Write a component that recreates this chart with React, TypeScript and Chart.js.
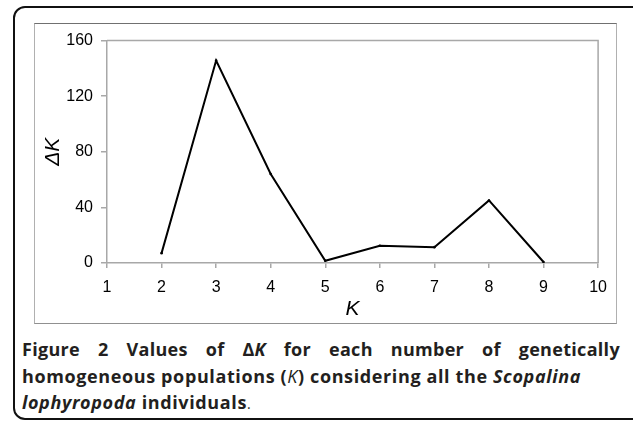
import React, { useEffect, useRef } from "react";
import { Chart, registerables } from "chart.js";

Chart.register(...registerables);

const kValues = [2, 3, 4, 5, 6, 7, 8, 9];
const deltaK = [7.1, 145.7, 64, 1.6, 12.4, 11.4, 45, 0.7];
const yTicks = [0, 40, 80, 120, 160];
const xTicks = [1, 2, 3, 4, 5, 6, 7, 8, 9, 10];

const boxPlugin = {
  id: "plotBox",
  afterDraw(chart: any) {
    const { ctx, chartArea } = chart;
    ctx.save();
    ctx.strokeStyle = "#a8a8a8";
    ctx.lineWidth = 1.5;
    ctx.beginPath();
    ctx.moveTo(chartArea.left, chartArea.top);
    ctx.lineTo(chartArea.right, chartArea.top);
    ctx.lineTo(chartArea.right, chartArea.bottom);
    ctx.stroke();
    ctx.restore();
  },
};

function DeltaKChart() {
  const ref = useRef<HTMLCanvasElement>(null);
  useEffect(() => {
    if (!ref.current) return;
    const chart = new Chart(ref.current, {
      type: "line",
      data: {
        datasets: [
          {
            data: kValues.map((k, i) => ({ x: k, y: deltaK[i] })),
            borderColor: "#000",
            backgroundColor: "#000",
            borderWidth: 2,
            pointRadius: 1.3,
            pointBorderWidth: 0,
            tension: 0,
          },
        ],
      },
      options: {
        animation: false,
        responsive: false,
        devicePixelRatio: 1,
        layout: { padding: { top: 16, right: 15, left: 0, bottom: 0 } },
        plugins: { legend: { display: false }, tooltip: { enabled: false } },
        scales: {
          x: {
            type: "linear",
            min: 1,
            max: 10,
            afterBuildTicks: (s: any) => {
              s.ticks = xTicks.map((v) => ({ value: v }));
            },
            afterFit: (s: any) => {
              s.height = 61;
            },
            border: { color: "#a8a8a8", width: 1.5 },
            grid: {
              drawOnChartArea: false,
              drawTicks: true,
              tickLength: 5,
              color: "#a8a8a8",
              lineWidth: 1.5,
            },
            ticks: {
              color: "#000",
              font: { family: "'Liberation Sans', Arial, sans-serif", size: 16 },
              padding: 10,
              maxRotation: 0,
              autoSkip: false,
            },
            title: {
              display: true,
              text: "K",
              color: "#000",
              font: { family: "'Liberation Sans', Arial, sans-serif", size: 21, style: "italic" },
              padding: { top: 0, bottom: 2 },
            },
          },
          y: {
            type: "linear",
            min: 0,
            max: 160,
            afterBuildTicks: (s: any) => {
              s.ticks = yTicks.map((v) => ({ value: v }));
            },
            afterFit: (s: any) => {
              s.width = 73;
            },
            border: { color: "#a8a8a8", width: 1.5 },
            grid: {
              drawOnChartArea: false,
              drawTicks: true,
              tickLength: 6,
              color: "#a8a8a8",
              lineWidth: 1.5,
            },
            ticks: {
              color: "#000",
              font: { family: "'Liberation Sans', Arial, sans-serif", size: 16 },
              padding: 8,
              autoSkip: false,
            },
            title: {
              display: true,
              text: "ΔK",
              color: "#000",
              font: { family: "'Liberation Sans', Arial, sans-serif", size: 21, style: "italic" },
              padding: { top: 7, bottom: 0 },
            },
          },
        },
      },
      plugins: [boxPlugin],
    } as any);
    return () => chart.destroy();
  }, []);
  return (
    <canvas
      ref={ref}
      width={583}
      height={301}
      style={{ position: "absolute", left: 34, top: 23, width: 583, height: 301 }}
    />
  );
}

export default function App() {
  const capFont = "'Open Sans', Lato, sans-serif";
  return (
    <div
      style={{
        position: "fixed",
        left: 0,
        top: 0,
        width: 633,
        height: 422,
        overflow: "hidden",
        background: "#fff",
      }}
    >
      <div
        style={{
          position: "absolute",
          left: 13,
          top: 6,
          width: 634,
          height: 414,
          border: "2px solid #111",
          borderRadius: 12,
          boxSizing: "border-box",
        }}
      />
      <div
        style={{
          position: "absolute",
          left: 34,
          top: 23,
          width: 583,
          height: 301,
          borderTop: "1.5px solid #707070",
          borderLeft: "1px solid #b0b0b0",
          borderRight: "1px solid #b0b0b0",
          borderBottom: "1.5px solid #909090",
          boxSizing: "border-box",
        }}
      />
      <DeltaKChart />
      <div
        style={{
          position: "absolute",
          left: 22,
          top: 336,
          width: 598,
          fontFamily: capFont,
          fontWeight: 700,
          fontSize: 18,
          letterSpacing: 0.62,
          lineHeight: "26.5px",
          color: "#231f20",
        }}
      >
        <div style={{ display: "flex", justifyContent: "space-between", whiteSpace: "nowrap", letterSpacing: 0.3 }}>
          <span>Figure</span>
          <span>2</span>
          <span>Values</span>
          <span>of</span>
          <span>
            Δ<i>K</i>
          </span>
          <span>for</span>
          <span>each</span>
          <span>number</span>
          <span>of</span>
          <span>genetically</span>
        </div>
        <div style={{ whiteSpace: "nowrap" }}>
          homogeneous populations (<i style={{ fontWeight: 400 }}>K</i>) considering all the <i>Scopalina</i>
        </div>
        <div style={{ whiteSpace: "nowrap" }}>
          <i>lophyropoda</i> individuals<span style={{ fontWeight: 400, fontSize: 14 }}>.</span>
        </div>
      </div>
    </div>
  );
}
